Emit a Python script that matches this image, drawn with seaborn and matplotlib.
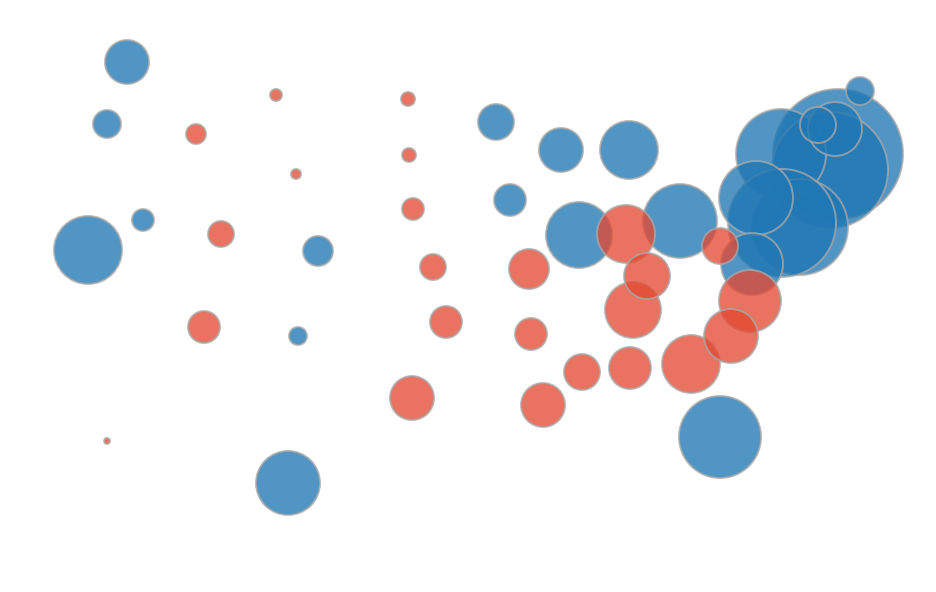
import numpy as np
import pandas as pd
import matplotlib
matplotlib.use('Agg')
import matplotlib.pyplot as plt
import seaborn as sns

# bubble data (x, y, radius), blue group then red group
blue_x = [838, 830, 781, 800, 782, 756, 752, 835, 818, 860,
          720, 680, 579, 629, 561, 496, 510, 88, 288, 127, 107, 143, 318, 298]
blue_y = [154, 170, 154, 227, 223, 198, 264, 129, 125, 91,
          437, 221, 235, 150, 150, 122, 200, 250, 483, 62, 124, 220, 251, 336]
blue_r = [65, 58, 45, 48, 54, 37, 31, 27, 18, 14,
          41, 37, 33, 29, 22, 18, 16, 34, 32, 22, 14, 11, 15, 9]

red_x = [196, 276, 296, 221, 204, 107, 408, 409, 413, 433, 446, 412,
         529, 531, 543, 582, 630, 626, 633, 647, 691, 720, 750, 731]
red_y = [134, 95, 174, 234, 327, 441, 99, 155, 209, 267, 322, 398,
         269, 334, 405, 372, 368, 234, 310, 276, 364, 246, 301, 336]
red_r = [10, 6, 5, 13, 16, 3, 7, 7, 11, 13, 16, 22,
         20, 16, 22, 18, 21, 29, 28, 23, 29, 18, 31, 27]

df = pd.DataFrame({
    'x': blue_x + red_x,
    'y': blue_y + red_y,
    'r': blue_r + red_r,
    'group': ['blue'] * len(blue_x) + ['red'] * len(red_x),
})

dpi = 100
fig = plt.figure(figsize=(9.36, 5.92), dpi=dpi)
ax = fig.add_axes([0, 0, 1, 1])

# marker size in points^2 from radius
sizes = (2 * df['r'] * 72 / dpi) ** 2

sns.scatterplot(data=df, x='x', y='y', hue='group',
                palette={'blue': '#1f77b4', 'red': '#e34a33'},
                s=sizes, alpha=0.78, edgecolor='#a8a8a8', linewidth=1.4,
                legend=False, ax=ax)

ax.set_xlim(0, 936)
ax.set_ylim(592, 0)
ax.axis('off')

fig.savefig('out.png', dpi=dpi)
plt.close(fig)
